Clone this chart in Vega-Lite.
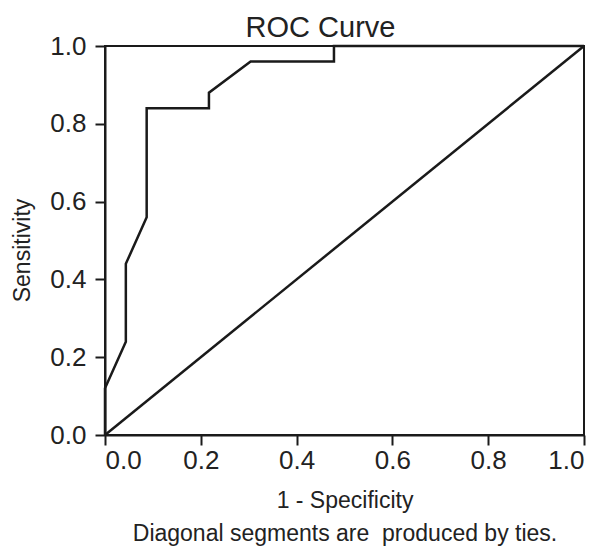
{
  "$schema": "https://vega.github.io/schema/vega-lite/v6.json",
  "autosize": {"type": "none"},
  "padding": {"left": 105, "top": 46, "right": 18, "bottom": 113},
  "width": 479,
  "height": 389,
  "background": "white",
  "config": {
    "font": "Liberation Sans",
    "view": {"stroke": "#1a1a1a", "strokeWidth": 2},
    "axis": {
      "grid": false,
      "domainColor": "#1a1a1a",
      "domainWidth": 2,
      "tickColor": "#1a1a1a",
      "tickWidth": 2,
      "tickSize": 10,
      "labelColor": "#222222",
      "labelFontSize": 26,
      "titleColor": "#222222",
      "titleFontSize": 23,
      "titleFontWeight": "normal"
    }
  },
  "title": {
    "text": "ROC Curve",
    "fontSize": 29,
    "fontWeight": "normal",
    "color": "#222222",
    "anchor": "middle",
    "frame": "group",
    "dx": -24,
    "offset": -10
  },
  "datasets": {
    "roc": [
      {"order": 0, "fpr": 0.0, "tpr": 0.0},
      {"order": 1, "fpr": 0.0, "tpr": 0.12},
      {"order": 2, "fpr": 0.0435, "tpr": 0.24},
      {"order": 3, "fpr": 0.0435, "tpr": 0.44},
      {"order": 4, "fpr": 0.087, "tpr": 0.56},
      {"order": 5, "fpr": 0.087, "tpr": 0.84},
      {"order": 6, "fpr": 0.217, "tpr": 0.84},
      {"order": 7, "fpr": 0.217, "tpr": 0.88},
      {"order": 8, "fpr": 0.304, "tpr": 0.96},
      {"order": 9, "fpr": 0.478, "tpr": 0.96},
      {"order": 10, "fpr": 0.478, "tpr": 1.0},
      {"order": 11, "fpr": 1.0, "tpr": 1.0}
    ],
    "ref": [
      {"order": 0, "fpr": 0.0, "tpr": 0.0},
      {"order": 1, "fpr": 1.0, "tpr": 1.0}
    ]
  },
  "layer": [
    {
      "data": {"name": "ref"},
      "mark": {"type": "line", "color": "#1a1a1a", "strokeWidth": 2.5},
      "encoding": {
        "x": {"field": "fpr", "type": "quantitative"},
        "y": {"field": "tpr", "type": "quantitative"},
        "order": {"field": "order"}
      }
    },
    {
      "data": {"name": "roc"},
      "mark": {"type": "line", "color": "#1a1a1a", "strokeWidth": 2.5},
      "encoding": {
        "x": {
          "field": "fpr",
          "type": "quantitative",
          "scale": {"domain": [0, 1], "nice": false},
          "axis": {
            "values": [0, 0.2, 0.4, 0.6, 0.8, 1.0],
            "format": ".1f",
            "labelPadding": 2,
            "title": ["1 - Specificity", "Diagonal segments are \u00a0produced by ties."],
            "titleLineHeight": 33,
            "titlePadding": 16
          }
        },
        "y": {
          "field": "tpr",
          "type": "quantitative",
          "scale": {"domain": [0, 1], "nice": false},
          "axis": {
            "values": [0, 0.2, 0.4, 0.6, 0.8, 1.0],
            "format": ".1f",
            "labelPadding": 9,
            "title": "Sensitivity",
            "titlePadding": 15,
            "titleY": 204
          }
        },
        "order": {"field": "order"}
      }
    }
  ]
}
